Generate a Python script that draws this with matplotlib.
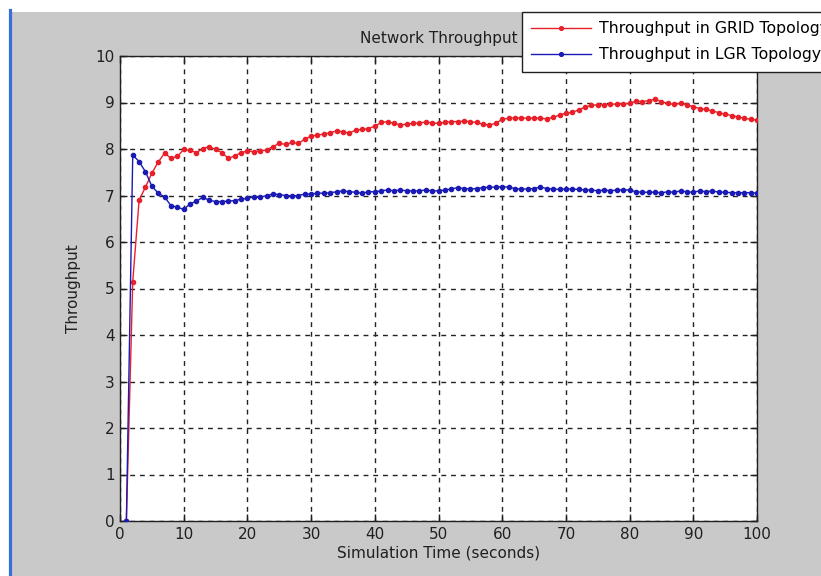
import matplotlib
matplotlib.use("Agg")
import matplotlib.pyplot as plt
from matplotlib.patches import Rectangle
from matplotlib.lines import Line2D
import numpy as np

time_s = list(range(1, 101))

grid_throughput = [
    0.00, 5.15, 6.90, 7.18, 7.48, 7.72, 7.91, 7.80, 7.84, 7.99,
    7.97, 7.92, 8.01, 8.05, 7.99, 7.92, 7.80, 7.85, 7.92, 7.96,
    7.94, 7.96, 7.98, 8.05, 8.12, 8.10, 8.14, 8.12, 8.21, 8.28,
    8.30, 8.32, 8.35, 8.39, 8.37, 8.34, 8.41, 8.42, 8.44, 8.49,
    8.57, 8.59, 8.55, 8.52, 8.53, 8.55, 8.56, 8.58, 8.56, 8.55,
    8.57, 8.59, 8.59, 8.60, 8.59, 8.57, 8.53, 8.52, 8.55, 8.64,
    8.66, 8.67, 8.67, 8.66, 8.67, 8.66, 8.65, 8.68, 8.73, 8.77,
    8.79, 8.84, 8.90, 8.94, 8.95, 8.95, 8.96, 8.97, 8.97, 8.98,
    9.03, 9.02, 9.04, 9.07, 9.02, 8.98, 8.96, 8.98, 8.95, 8.91,
    8.87, 8.85, 8.82, 8.78, 8.75, 8.72, 8.69, 8.66, 8.64, 8.62,
]

lgr_throughput = [
    0.00, 7.87, 7.73, 7.51, 7.20, 7.05, 6.97, 6.78, 6.75, 6.70,
    6.82, 6.88, 6.96, 6.90, 6.87, 6.87, 6.88, 6.89, 6.92, 6.94,
    6.97, 6.96, 7.00, 7.03, 7.02, 7.00, 6.99, 7.00, 7.03, 7.03,
    7.05, 7.05, 7.06, 7.08, 7.10, 7.08, 7.07, 7.05, 7.08, 7.08,
    7.10, 7.12, 7.10, 7.12, 7.10, 7.10, 7.10, 7.12, 7.10, 7.10,
    7.12, 7.14, 7.17, 7.15, 7.14, 7.15, 7.17, 7.18, 7.18, 7.19,
    7.18, 7.15, 7.14, 7.14, 7.15, 7.18, 7.15, 7.14, 7.13, 7.14,
    7.14, 7.13, 7.12, 7.12, 7.10, 7.12, 7.10, 7.12, 7.12, 7.12,
    7.08, 7.07, 7.07, 7.07, 7.06, 7.08, 7.07, 7.10, 7.08, 7.07,
    7.10, 7.08, 7.10, 7.07, 7.07, 7.06, 7.06, 7.06, 7.06, 7.05,
]

series_labels = ["Throughput in GRID Topology", "Throughput in LGR Topology"]
x_ticks = list(range(0, 101, 10))
y_ticks = list(range(0, 11))

W, H = 821, 576
plt.rcParams['font.family'] = ['DejaVu Sans']
fig = plt.figure(figsize=(W / 100, H / 100), dpi=100, facecolor='white')

# grey window background and blue left stripe
fig.patches.append(Rectangle((12 / W, 0), 1, 1 - 12 / H, transform=fig.transFigure,
                             facecolor='#c9c9c9', edgecolor='none', zorder=-10))
fig.lines.append(Line2D([10 / W, 10 / W], [0, 1 - 10 / H], transform=fig.transFigure,
                        color='#3a6fd8', lw=2.3, zorder=-5))

ax = fig.add_axes([120 / W, 1 - 521 / H, (757 - 120) / W, (521 - 56) / H])
ax.set_facecolor('white')

ax.plot(time_s, grid_throughput, color='#e8202a', lw=1.0, marker='o', ms=3.0,
        label=series_labels[0], zorder=3)
ax.plot(time_s, lgr_throughput, color='#1a1ab4', lw=1.0, marker='o', ms=3.0,
        label=series_labels[1], zorder=3)

ax.set_xlim(0, 100)
ax.set_ylim(0, 10)
ax.set_xticks(x_ticks)
ax.set_yticks(y_ticks)
ax.tick_params(direction='in', length=5, width=1, top=True, right=True,
               labelsize=11, colors='#202020', pad=4)
for s in ax.spines.values():
    s.set_color('#202020')
    s.set_linewidth(1.0)
ax.grid(True, color='#222222', linestyle=(0, (3.5, 3.5)), linewidth=1.0)

ax.set_title('Network Throughput', fontsize=11, pad=9, color='#202020')
ax.set_xlabel('Simulation Time (seconds)', fontsize=11, labelpad=3, color='#202020')
ax.set_ylabel('Throughput', fontsize=11, labelpad=10, color='#202020')

leg = ax.legend(loc='upper left', bbox_to_anchor=(522 / W, 1 - 12 / H),
                bbox_transform=fig.transFigure, borderaxespad=0, fancybox=False,
                framealpha=1, edgecolor='#202020', fontsize=11.3,
                handlelength=3.8, handletextpad=0.5, borderpad=0.6,
                labelspacing=0.7, markerscale=0.9)
leg.get_frame().set_linewidth(1.0)
leg.set_zorder(10)

fig.savefig('out.png', dpi=100, facecolor=fig.get_facecolor())
